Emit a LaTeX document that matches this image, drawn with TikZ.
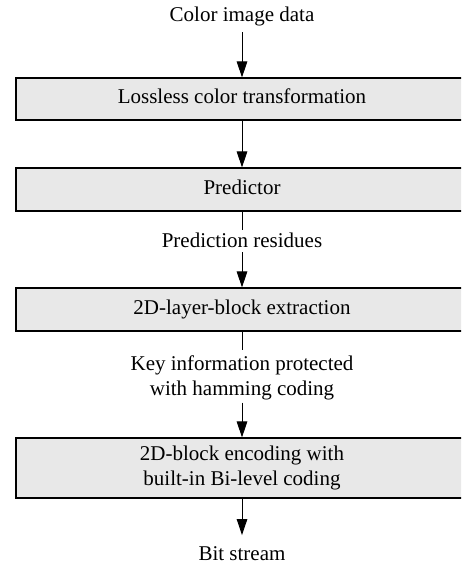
\documentclass[tikz,border=0pt]{standalone}
\usepackage{fontspec}
\setmainfont{Liberation Serif}
\usetikzlibrary{arrows.meta}
\definecolor{boxgray}{RGB}{232,232,232}
\begin{document}
\begin{tikzpicture}[x=1pt,y=-1pt,
  txt/.style={font=\fontsize{21}{25}\selectfont, align=center},
  one/.style={text height=14.7pt, text depth=5.25pt},
  stagebox/.style={txt, draw=black, line width=1.1pt, fill=boxgray, minimum width=452pt, inner sep=0pt},
  lbl/.style={txt, inner sep=0pt},
  flow/.style={line width=1pt, -{Triangle[length=16pt,width=10.5pt]}},
  link/.style={line width=1pt}]
\useasboundingbox (0,0) rectangle (461,567);
\clip (0,0) rectangle (461,567);

\node[lbl, one] (in) at (242,16.3) {Color image data};
\node[stagebox, one, minimum height=42pt] (b1) at (242,99) {Lossless color transformation};
\node[stagebox, one, minimum height=43pt] (b2) at (242,189.5) {Predictor};
\node[lbl, one] (l1) at (242,242.3) {Prediction residues};
\node[stagebox, one, minimum height=43pt] (b3) at (242,309.5) {2D-layer-block extraction};
\node[lbl] (l2) at (242,377.8) {Key information protected\\with hamming coding};
\node[stagebox, minimum height=60pt] (b4) at (242,468) {2D-block encoding with\\built-in Bi-level coding};
\node[lbl, one] (out) at (242,555.3) {Bit stream};

\draw[flow, shorten <=5.7pt] (in) -- (b1);
\draw[flow] (b1) -- (b2);
\draw[link, shorten >=2pt] (b2) -- (l1);
\draw[flow] (l1) -- (b3);
\draw[link, shorten >=5pt] (b3) -- (l2);
\draw[flow, shorten <=2.5pt] (l2) -- (b4);
\draw[flow, shorten >=10pt] (b4) -- (out);
\end{tikzpicture}
\end{document}
